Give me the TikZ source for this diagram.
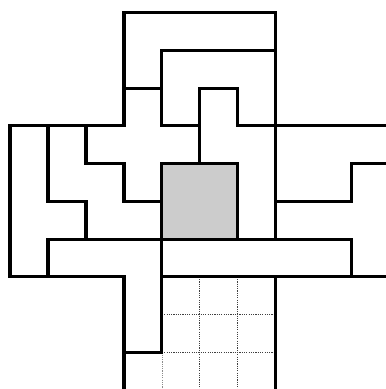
\documentclass[tikz,border=0pt]{standalone}
\begin{document}
\begin{tikzpicture}[x=1cm,y=-0.9929cm,
  wall/.style={line width=0.08cm,line join=miter,line cap=rect},
  gridline/.style={line width=0.025cm,dash pattern=on 0.03cm off 0.03cm,black!75},
  shade/.style={fill=black!20}]
\useasboundingbox (-0.263,-0.337) rectangle (9.895,9.974);
\clip (-0.263,-0.337) rectangle (9.895,9.974);
% gray cell
\fill[shade] (4,4) rectangle (6,6);
% dotted grid
\draw[gridline] (5,7) -- (5,10.5);
\draw[gridline] (6,7) -- (6,10.5);
\draw[gridline] (4,8) -- (7,8);
\draw[gridline] (4,9) -- (7,9);
\draw[gridline,black!45] (4,9) -- (4,10.5);
% walls
\draw[wall] (3,3) -- (3,0) -- (7,0) -- (7,6);
\draw[wall] (3,2) -- (4,2);
\draw[wall] (4,3) -- (4,1) -- (7,1);
\draw[wall] (0,7) -- (0,3) -- (3,3);
\draw[wall] (4,3) -- (5,3);
\draw[wall] (5,4) -- (5,2) -- (6,2) -- (6,3);
\draw[wall] (6,3) -- (10.5,3);
\draw[wall] (1,3) -- (1,5) -- (2,5) -- (2,6);
\draw[wall] (2,3) -- (2,4) -- (3,4) -- (3,5) -- (4,5);
\draw[wall] (4,4) rectangle (6,6);
\draw[wall] (4,6) -- (4,9) -- (3,9);
\draw[wall] (10.5,4) -- (9,4) -- (9,5) -- (7,5);
\draw[wall] (1,7) -- (1,6) -- (9,6) -- (9,7);
\draw[wall] (0,7) -- (3,7) -- (3,10.5);
\draw[wall] (4,7) -- (10.5,7);
\draw[wall] (7,7) -- (7,10.5);
\end{tikzpicture}
\end{document}
